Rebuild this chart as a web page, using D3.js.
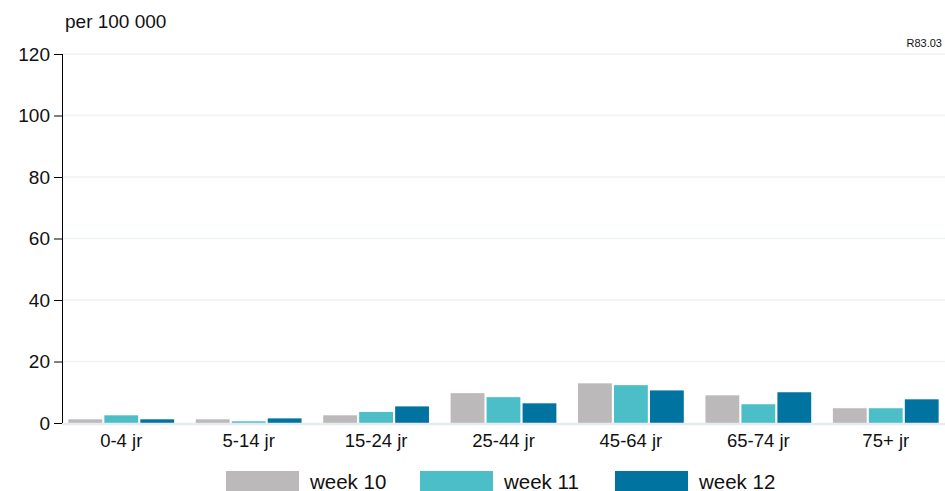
<!DOCTYPE html>
<html>
<head>
<meta charset=utf-8>
<title>per 100 000</title>
<style>
body{margin: 0; background: #fff;}
#chart text{font-family: "Liberation Sans", Arial, sans-serif; fill: #111;}
.grid line{stroke: #edf2f5; stroke-width: 1.5;}
</style>
</head>
<body>
<svg id=chart width=945 height=491></svg>
<script src="https://cdn.jsdelivr.net/npm/d3@7"></script>
<script>
//data
var ageGroups = ['0-4 jr', '5-14 jr', '15-24 jr', '25-44 jr', '45-64 jr', '65-74 jr', '75+ jr'];
var weeks = ['week 10', 'week 11', 'week 12'];
var week10 = [1.2, 1.2, 2.5, 9.7, 12.9, 9.0, 4.8];
var week11 = [2.5, 0.55, 3.6, 8.4, 12.3, 6.1, 4.8];
var week12 = [1.2, 1.5, 5.4, 6.4, 10.6, 10.0, 7.7];
var yTicks = [0, 20, 40, 60, 80, 100, 120];
var colors = ['#bbb9ba', '#4bbec7', '#0073a0'];

var series = [week10, week11, week12];

var margin = {top: 54, right: 0, bottom: 68, left: 62};
var svg = d3.select('#chart');
var W = +svg.attr('width'), H = +svg.attr('height');
var width = W - margin.left - margin.right;
var height = H - margin.top - margin.bottom;

var chart = svg.append('g')
    .attr('transform', 'translate(' + margin.left + ',' + margin.top + ')');

var x0 = d3.scaleBand().domain(ageGroups).range([0, width])
    .paddingInner(0.17).paddingOuter(0.05);
var x1 = d3.scaleBand().domain(weeks).range([0, x0.bandwidth()]).paddingInner(0.06);
var y = d3.scaleLinear().domain([0, 120]).range([height, 0]);
var color = d3.scaleOrdinal().domain(weeks).range(colors);

//horizontal gridlines
chart.append('g')
    .attr('class', 'grid')
  .selectAll('line')
    .data(yTicks.filter(d => d > 0))
  .enter().append('line')
    .attr('x1', 0)
    .attr('x2', width)
    .attr('y1', d => y(d))
    .attr('y2', d => y(d));

//bars
var rows = ageGroups.map((g, i) => ({group: g, values: weeks.map((w, j) => ({week: w, value: series[j][i]}))}));

chart.append('g').selectAll('g')
    .data(rows)
  .enter().append('g')
    .attr('transform', d => 'translate(' + x0(d.group) + ',0)')
  .selectAll('rect')
    .data(d => d.values)
  .enter().append('rect')
    .attr('x', d => x1(d.week))
    .attr('width', x1.bandwidth())
    .attr('y', d => y(d.value))
    .attr('height', d => y(0) - y(d.value))
    .attr('fill', d => color(d.week));

//baseline at zero
chart.append('line')
    .attr('x1', 0).attr('x2', width)
    .attr('y1', y(0) + 1).attr('y2', y(0) + 1)
    .attr('stroke', '#e6ecee').attr('stroke-width', 2.5);

//y axis
var yAxis = chart.append('g')
    .call(d3.axisLeft(y).tickValues(yTicks).tickSize(8).tickPadding(4));
yAxis.select('.domain').attr('d', 'M0.5,' + y(120) + 'V' + y(0)).attr('stroke', '#000');
yAxis.selectAll('.tick line').attr('stroke', '#000');
yAxis.selectAll('.tick text').attr('font-size', 19).attr('fill', '#111');

//x labels
var xAxis = chart.append('g')
    .attr('transform', 'translate(0,' + height + ')')
    .call(d3.axisBottom(x0).tickSize(0).tickPadding(11));
xAxis.select('.domain').remove();
xAxis.selectAll('.tick text').attr('font-size', 18.5).attr('fill', '#111');

//unit label and code
svg.append('text')
    .attr('x', 65).attr('y', 28)
    .attr('font-size', 19)
    .text('per 100 000');

svg.append('text')
    .attr('x', 942).attr('y', 47)
    .attr('text-anchor', 'end')
    .attr('font-size', 11)
    .text('R83.03');

//legend
var legendX = [226, 420, 615];
var legend = svg.append('g').selectAll('g')
    .data(weeks)
  .enter().append('g')
    .attr('transform', (d, i) => 'translate(' + legendX[i] + ',471)');
legend.append('rect')
    .attr('width', 73).attr('height', 22)
    .attr('fill', d => color(d));
legend.append('text')
    .attr('x', 84).attr('y', 17.5)
    .attr('font-size', 20.5)
    .text(d => d);
</script>
</body>
</html>
